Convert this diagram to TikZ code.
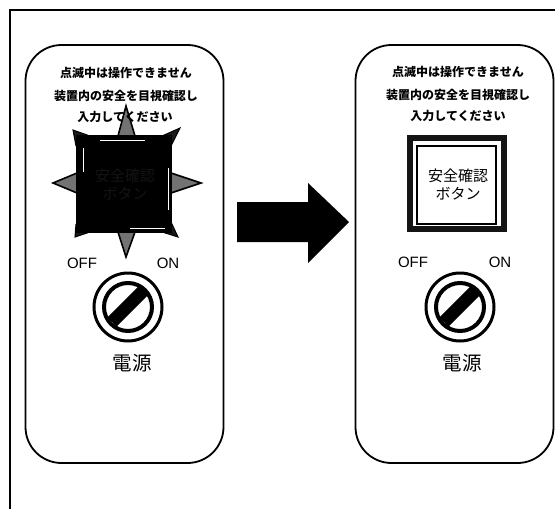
\documentclass[tikz,border=0pt]{standalone}
\usepackage{fontspec}
\setmainfont{Liberation Sans}
\newfontfamily\cjk{Noto Sans CJK JP}
\tikzset{
	panel/.style={rectangle, draw, line width=1.8pt, rounded corners=36pt, minimum width=198pt, minimum height=418pt, inner sep=0pt},
	notice/.style={font=\cjk\bfseries\fontsize{12}{12}\selectfont, inner sep=0pt},
	switchlabel/.style={font=\fontsize{15}{15}\selectfont, inner sep=0pt},
	powerlabel/.style={font=\cjk\fontsize{19.5}{19.5}\selectfont, inner sep=0pt},
	buttonlabel/.style={font=\cjk\fontsize{15}{15}\selectfont, inner sep=0pt, align=center},
	dialouter/.style={circle, draw, line width=3pt, minimum size=68pt, inner sep=0pt},
	dialinner/.style={circle, draw, line width=4pt, minimum size=48pt, inner sep=0pt},
	dialslot/.style={rectangle, fill=black, minimum width=45pt, minimum height=13pt, inner sep=0pt, rotate=45},
	spike/.style={draw, line width=1.6pt, fill=black!55, line join=miter},
	cornerspike/.style={draw, line width=1pt, fill=black!90, line join=miter},
	rimline/.style={draw=white, line width=0.9pt}
}
\begin{document}
\begin{tikzpicture}[x=1pt, y=-1pt]
	\useasboundingbox (0,0) rectangle (555,509);
	% outer frame
	\coordinate (frameA) at (10,509);
	\coordinate (frameB) at (10,10);
	\coordinate (frameC) at (555,10);
	\draw[line width=1.2pt] (frameA) -- (frameB) -- (frameC);
	
	\node (panelL) [panel] at (124.5,254) {};
	\node (panelR) [panel] at (454.5,254) {};
	
	% flashing button
	\draw[spike] (118,136) -- (126,106) -- (135,136);
	\draw[spike] (118,232) -- (126,257) -- (135,232);
	\draw[spike] (77,173) -- (53,183) -- (77,193);
	\draw[spike] (171,173) -- (201,183) -- (171,193);
	\draw[cornerspike] (76,146) -- (73,130) -- (90,136);
	\draw[cornerspike] (162,136) -- (180,128) -- (171,146);
	\draw[cornerspike] (76,224) -- (75,237) -- (90,232);
	\draw[cornerspike] (162,232) -- (178,237) -- (171,222);
	\node (flash) [rectangle, fill=black, minimum width=96pt, minimum height=98pt, inner sep=0pt] at (124,184) {};
	\draw[rimline] (83,148) -- (83,172);
	\draw[rimline] (100,140) -- (145,140);
	\draw[rimline] (168,168) -- (168,210);
	\draw[rimline] (130,228) -- (165,228);
	\node (flashtext) [buttonlabel, text=black!92] at (125,185) {安全確認\\[3pt]ボタン};
	
	% steady button
	\node (safe) [rectangle, draw=black!92, line width=6pt, minimum width=94pt, minimum height=91pt, inner sep=0pt] at (457,183.5) {};
	\node (saferim) [rectangle, draw, line width=1.8pt, minimum width=79pt, minimum height=78pt, inner sep=0pt] at (456.5,185) {};
	\node (safetext) [buttonlabel] at (458,185) {安全確認\\[3pt]ボタン};
	
	% notices
	\node (noticeLa) [notice] at (126,73) {点滅中は操作できません};
	\node (noticeLb) [notice] at (126,96) {装置内の安全を目視確認し};
	\node (noticeLc) [notice] at (125,117) {入力してください};
	\node (noticeRa) [notice] at (458,72) {点滅中は操作できません};
	\node (noticeRb) [notice] at (458,95) {装置内の安全を目視確認し};
	\node (noticeRc) [notice] at (458,116) {入力してください};
	
	% power switches
	\node (offL) [switchlabel] at (82,263) {OFF};
	\node (onL) [switchlabel] at (168,263) {ON};
	\node (offR) [switchlabel] at (413,262) {OFF};
	\node (onR) [switchlabel] at (500,262) {ON};
	\node (dialLa) [dialouter] at (128,307) {};
	\node (dialLb) [dialinner] at (128,307) {};
	\node (slotL) [dialslot] at (128,306) {};
	\node (dialRa) [dialouter] at (460,307) {};
	\node (dialRb) [dialinner] at (460,307) {};
	\node (slotR) [dialslot] at (460,306) {};
	\node (powerL) [powerlabel] at (132,363) {電源};
	\node (powerR) [powerlabel] at (462,363) {電源};
	
	% big arrow
	\fill (237,202) -- (308,202) -- (308,183) -- (349,222) -- (308,263) -- (308,242) -- (237,242) -- cycle;
\end{tikzpicture}
\end{document}
